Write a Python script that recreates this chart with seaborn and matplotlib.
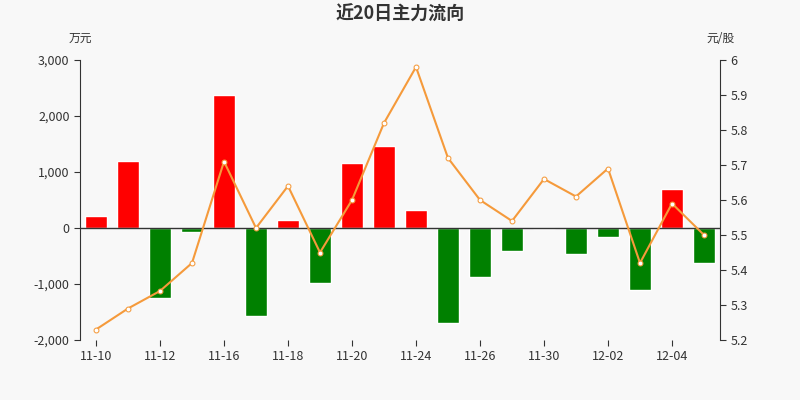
import matplotlib
matplotlib.use("Agg")
import matplotlib.pyplot as plt
import seaborn as sns
import numpy as np
import pandas as pd

dates = ["11-10","11-11","11-12","11-13","11-16","11-17","11-18","11-19","11-20","11-23",
         "11-24","11-25","11-26","11-27","11-30","12-01","12-02","12-03","12-04","12-07"]
flow = [210,1200,-1250,-70,2370,-1580,150,-980,1160,1460,320,-1700,-870,-410,-10,-470,-160,-1100,690,-620]
price = [5.23,5.29,5.34,5.42,5.71,5.52,5.64,5.45,5.60,5.82,5.98,5.72,5.60,5.54,5.66,5.61,5.69,5.42,5.59,5.50]

sns.set_style("white")
plt.rcParams['font.family'] = ['Noto Sans CJK SC', 'DejaVu Sans']
bg = "#f8f8f8"
fig = plt.figure(figsize=(8,4), dpi=100, facecolor=bg)
ax = fig.add_axes([0.1, 0.15, 0.8, 0.70], facecolor=bg)
df = pd.DataFrame({"d": dates, "v": flow})
colors = ["#ff0000" if v >= 0 else "#008000" for v in flow]
sns.barplot(data=df, x="d", y="v", hue="d", palette=colors, legend=False, ax=ax, width=0.7, saturation=1)
ax.set_ylim(-2000, 3000)
ax.set_yticks(range(-2000, 3001, 1000))
ax.set_yticklabels([f"{v:,}" for v in range(-2000, 3001, 1000)])
ax.set_xticks(range(0, 20, 2))
ax.set_xticklabels(dates[::2])
ax.set_xlim(-0.5, 19.5)
ax.set_xlabel(""); ax.set_ylabel("")
ax.axhline(0, color="#333333", lw=1)
for s in ["top", "right"]:
    ax.spines[s].set_visible(False)
ax.spines["left"].set_color("#333333")
ax.spines["bottom"].set_visible(False)
ax.tick_params(axis="both", labelsize=9, colors="#333333", length=4, left=True, bottom=True)

ax2 = ax.twinx()
sns.lineplot(x=np.arange(20), y=price, ax=ax2, color="#f59a3b", lw=1.5,
             marker="o", markersize=3.5, markerfacecolor="white", markeredgecolor="#f59a3b")
ax2.set_ylim(5.2, 6.0)
ax2.set_yticks(np.round(np.arange(5.2, 6.01, 0.1), 1))
ax2.set_yticklabels(["5.2","5.3","5.4","5.5","5.6","5.7","5.8","5.9","6"])
for s in ["top", "left", "bottom"]:
    ax2.spines[s].set_visible(False)
ax2.spines["right"].set_color("#333333")
ax2.tick_params(axis="y", labelsize=9, colors="#333333", length=4, right=True)
ax2.set_facecolor("none")

fig.text(0.5, 0.965, "近20日主力流向", ha="center", va="center", fontsize=13, color="#333333", fontweight="bold")
fig.text(0.1, 0.905, "万元", ha="center", va="center", fontsize=8.5, color="#333333")
fig.text(0.9, 0.905, "元/股", ha="center", va="center", fontsize=8.5, color="#333333")
fig.savefig("out.png", dpi=100, facecolor=bg)
